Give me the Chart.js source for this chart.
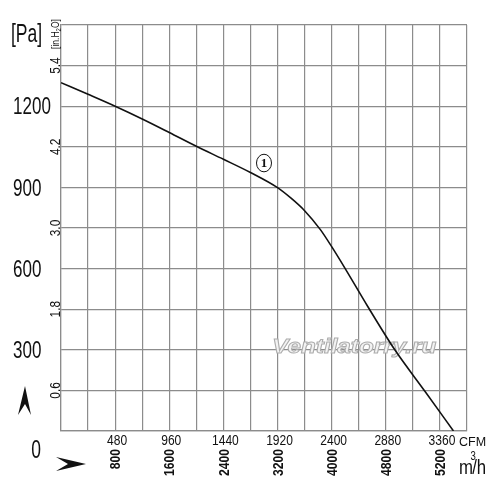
<!DOCTYPE html>
<html>
<head>
<meta charset="utf-8">
<script src="https://cdn.jsdelivr.net/npm/chart.js@4.4.1/dist/chart.umd.min.js"></script>
<style>
  html, body { margin: 0; padding: 0; background: #fff; }
  #wrap { position: relative; width: 500px; height: 498px; }
</style>
</head>
<body>
<div id="wrap"><canvas id="fanChart"></canvas></div>
<script>
// curve 1 (flow in CFM, static pressure in Pa)
const flowCfm = [0, 240, 480, 720, 960, 1200, 1440, 1680, 1920, 2040, 2160, 2300, 2400, 2520, 2720, 2960, 3230, 3480];
const pressurePa = [1287, 1244, 1200, 1153, 1103, 1052, 1004, 955, 899, 860, 814, 744, 681, 600, 460, 300, 145, 0];

// axis labels
const cfmTicks = [480, 960, 1440, 1920, 2400, 2880, 3360];
const m3hLabels = ['800', '1600', '2400', '3200', '4000', '4800', '5200'];
const paTicks = [0, 300, 600, 900, 1200];
const inTicks = [0.6, 1.8, 3.0, 4.2, 5.4];

const SANS = "'Liberation Sans', Arial, sans-serif";
const GRID = '#8c8c8c';
const INK = '#111';

// condensed text: the original uses a narrow face, so squeeze a normal one
function squeezed(ctx, s, x, y, o) {
    ctx.save();
    ctx.translate(x, y);
    if (o.rot) ctx.rotate(o.rot);
    ctx.scale(o.sx || 1, 1);
    ctx.font = (o.weight ? o.weight + ' ' : '') + o.size + 'px ' + (o.family || SANS);
    ctx.textAlign = o.align || 'center';
    ctx.textBaseline = 'alphabetic';
    ctx.fillStyle = o.color || INK;
    // shift so the digits sit centred on the anchor line
    ctx.fillText(s, 0, o.mid === false ? 0 : 0.358 * o.size);
    ctx.restore();
}

const labelPlugin = {
    id: 'labels',
    beforeDatasetsDraw(chart) {
        const { ctx, scales } = chart;
        // watermark
        const cx = scales.x.getPixelForValue(2600);
        const cy = scales.y.getPixelForValue(290);
        ctx.save();
        ctx.font = "italic bold 21px " + SANS;
        const w = ctx.measureText('Ventilatorry.ru').width;
        ctx.translate(cx, cy);
        ctx.scale(164 / w, 1);
        ctx.textAlign = 'center';
        ctx.textBaseline = 'alphabetic';
        ctx.fillStyle = '#f3f3f3';
        ctx.strokeStyle = '#adadad';
        ctx.lineWidth = 1;
        ctx.fillText('Ventilatorry.ru', 0, 0);
        ctx.strokeText('Ventilatorry.ru', 0, 0);
        ctx.restore();
    },
    afterDraw(chart) {
        const { ctx, chartArea, scales } = chart;
        const L = chartArea.left, B = chartArea.bottom, T = chartArea.top, R = chartArea.right;
        const up = -Math.PI / 2;

        // pressure in Pa, left column
        paTicks.forEach(v => {
            if (v === 0) {
                squeezed(ctx, String(v), L - 25, scales.y.getPixelForValue(v) + 18, { size: 25, sx: 0.7 });
            } else {
                squeezed(ctx, String(v), L - 48, scales.y.getPixelForValue(v), { size: 23, sx: 0.74, align: 'left' });
            }
        });
        // pressure in in.H2O, rotated column
        inTicks.forEach(v => {
            squeezed(ctx, v.toFixed(1), L - 6, scales.yIn.getPixelForValue(v), { size: 14, sx: 0.85, rot: up });
        });
        // flow in CFM
        cfmTicks.forEach(v => {
            squeezed(ctx, String(v), scales.x.getPixelForValue(v) + 2, B + 9, { size: 14, sx: 0.86 });
        });
        // flow in m3/h, rotated
        cfmTicks.forEach((v, i) => {
            squeezed(ctx, m3hLabels[i], scales.x.getPixelForValue(v), B + 18, { size: 14.5, sx: 0.84, weight: 'bold', rot: up, align: 'right' });
        });

        // unit captions
        squeezed(ctx, '[Pa]', L - 50, T + 17, { size: 25, sx: 0.7, align: 'left', mid: false });

        ctx.save();
        ctx.translate(L - 6, T + 9);
        ctx.rotate(up);
        ctx.scale(0.85, 1);
        ctx.fillStyle = INK;
        ctx.textBaseline = 'alphabetic';
        const a = '[in.H', b = '2', c = 'O]';
        ctx.font = '10px ' + SANS;
        const wa = ctx.measureText(a).width, wc = ctx.measureText(c).width;
        ctx.font = '7px ' + SANS;
        const wb = ctx.measureText(b).width;
        const px = -(wa + wb + wc) / 2;
        ctx.font = '10px ' + SANS;
        ctx.fillText(a, px, 3.6);
        ctx.font = '7px ' + SANS;
        ctx.fillText(b, px + wa, 5.5);
        ctx.font = '10px ' + SANS;
        ctx.fillText(c, px + wa + wb, 3.6);
        ctx.restore();

        squeezed(ctx, 'CFM', R - 8, B + 15, { size: 12.5, align: 'left', mid: false });
        ctx.save();
        ctx.fillStyle = INK;
        ctx.translate(R - 8, B + 43);
        ctx.scale(0.8, 1);
        ctx.font = '21px ' + SANS;
        ctx.textAlign = 'left';
        ctx.textBaseline = 'alphabetic';
        ctx.fillText('m', 0, 0);
        const mw = ctx.measureText('m').width;
        ctx.fillText('/h', mw - 1, 0);
        ctx.font = '12px ' + SANS;
        ctx.fillText('3', mw - 3, -14);
        ctx.restore();

        // axis arrows
        ctx.save();
        ctx.fillStyle = INK;
        ctx.beginPath();
        ctx.moveTo(L - 36, B - 45);
        ctx.lineTo(L - 43, B - 16);
        ctx.lineTo(L - 36, B - 27);
        ctx.lineTo(L - 30, B - 16);
        ctx.closePath();
        ctx.fill();
        ctx.beginPath();
        ctx.moveTo(L + 25, B + 33);
        ctx.lineTo(L - 5, B + 26);
        ctx.lineTo(L + 7, B + 33);
        ctx.lineTo(L - 5, B + 40);
        ctx.closePath();
        ctx.fill();

        // curve number
        const lx = scales.x.getPixelForValue(1800);
        const ly = scales.y.getPixelForValue(990);
        ctx.strokeStyle = INK;
        ctx.lineWidth = 1;
        ctx.beginPath();
        ctx.ellipse(lx, ly, 7.5, 8.8, 0, 0, Math.PI * 2);
        ctx.stroke();
        ctx.font = "bold 13px 'Liberation Serif', serif";
        ctx.textAlign = 'center';
        ctx.textBaseline = 'middle';
        ctx.fillText('1', lx, ly + 1);
        ctx.restore();
    }
};

const ctx = document.getElementById('fanChart').getContext('2d');
new Chart(ctx, {
    type: 'line',
    data: {
        datasets: [{
            label: '1',
            data: flowCfm.map((f, i) => ({ x: f, y: pressurePa[i] })),
            borderColor: INK,
            borderWidth: 1.6,
            pointRadius: 0,
            fill: false,
            cubicInterpolationMode: 'monotone'
        }]
    },
    options: {
        responsive: true,
        maintainAspectRatio: false,
        animation: false,
        layout: { padding: { left: 61, right: 33, top: 25, bottom: 67 } },
        plugins: { legend: { display: false }, tooltip: { enabled: false } },
        scales: {
            x: {
                type: 'linear', position: 'bottom',
                min: 0, max: 3600,
                grid: { color: GRID, lineWidth: 1.2, drawTicks: false },
                border: { color: GRID, width: 1.2 },
                ticks: { stepSize: 240, autoSkip: false, display: false },
                afterFit: s => { s.height = 0; }
            },
            y: {
                type: 'linear', position: 'left',
                min: 0, max: 1500,
                grid: { color: GRID, lineWidth: 1.2, drawTicks: false },
                border: { color: GRID, width: 1.2 },
                ticks: { stepSize: 150, autoSkip: false, display: false },
                afterFit: s => { s.width = 0; }
            },
            yIn: {
                type: 'linear', position: 'left', display: false,
                min: 0, max: 6
            }
        }
    },
    plugins: [labelPlugin]
});
</script>
</body>
</html>
